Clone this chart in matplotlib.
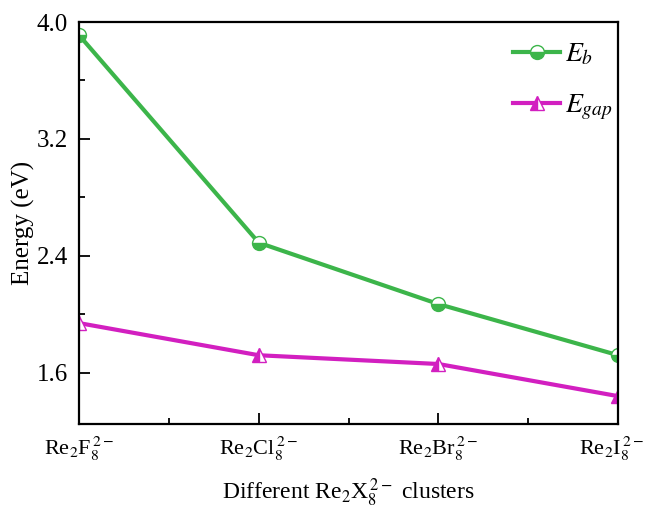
import numpy as np
import matplotlib.pyplot as plt
import matplotlib.transforms as mtransforms
from matplotlib.ticker import MultipleLocator

plt.rcParams['font.family'] = ['Liberation Serif', 'DejaVu Serif']
plt.rcParams['mathtext.fontset'] = 'stix'

clusters = [r'Re$_2$F$_8^{\,2-}$', r'Re$_2$Cl$_8^{\,2-}$',
            r'Re$_2$Br$_8^{\,2-}$', r'Re$_2$I$_8^{\,2-}$']
e_b = [3.91, 2.49, 2.07, 1.72]
e_gap = [1.94, 1.72, 1.66, 1.44]

x = np.arange(len(clusters))

fig = plt.figure(figsize=(6.48, 5.12), dpi=100)
ax = fig.add_axes([0.122, 0.172, 0.832, 0.785])

ax.plot(x, e_b, color='#3cb54a', lw=3.0, marker='o', ms=10, fillstyle='bottom',
        markerfacecoloralt='white', mec='#3cb54a', mew=1.0, label=r'$E_b$')
ax.plot(x, e_gap, color='#d21fc0', lw=3.0, marker='^', ms=10, fillstyle='left',
        markerfacecoloralt='white', mec='#d21fc0', mew=1.0, label=r'$E_{gap}$')

ax.set_xlim(0, 3)
ax.set_ylim(1.25, 4.0)
ax.set_xticks(x)
ax.set_xticklabels(clusters)
ax.xaxis.set_minor_locator(MultipleLocator(0.5))
ax.yaxis.set_minor_locator(MultipleLocator(0.4))
ax.set_yticks([1.6, 2.4, 3.2, 4.0])

ax.tick_params(which='both', direction='in', width=1.3)
ax.tick_params(axis='y', labelsize=18)
ax.tick_params(axis='x', labelsize=16)
ax.tick_params(which='major', length=8, pad=8)
ax.tick_params(which='minor', length=4)
for s in ax.spines.values():
    s.set_linewidth(1.6)

# nudge the last label a bit so it stays inside the figure
last = ax.get_xticklabels()[-1]
last.set_transform(last.get_transform() +
                   mtransforms.ScaledTranslation(-7 / 100, 0, fig.dpi_scale_trans))

ax.set_ylabel('Energy (eV)', fontsize=18, labelpad=1)
ax.set_xlabel(r'Different Re$_2$X$_8^{\,2-}$ clusters', fontsize=17, labelpad=10)

ax.legend(loc='upper left', bbox_to_anchor=(0.792, 0.918),
          bbox_transform=fig.transFigure, frameon=False, fontsize=20,
          handlelength=1.7, handletextpad=0.15, labelspacing=0.9,
          borderpad=0, borderaxespad=0)

fig.savefig('out.png', dpi=100)
